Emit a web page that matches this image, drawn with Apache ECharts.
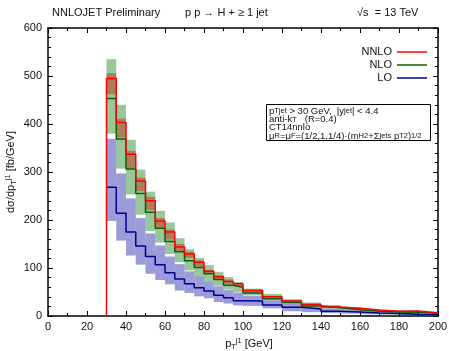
<!DOCTYPE html>
<html>
<head>
<meta charset="utf-8">
<script src="https://cdn.jsdelivr.net/npm/echarts@6/dist/echarts.min.js"></script>
<style>html,body{margin:0;padding:0;background:#fff}#c{width:449px;height:351px}</style>
</head>
<body>
<div id="c"></div>
<script>
// Bin edges (GeV)
const binEdges = [30,35,40,45,50,55,60,65,70,75,80,85,90,95,100,110,120,130,140,150,160,170,180,190,200];
// NNLO
const nnlo     = [495,403,337,281,240,198,175,144,129,112,93,82,72,67,53,40,31,24,19,16,12.6,10,10.4,7];
const nnloUp   = [506,411,344,288,248,204,180,150,134,116,96,85,76,69,55,42,33,26,21,17,13.5,11,11.5,8];
const nnloDown = [462,372,308,260,221,184,159,134,121,103,88,77,67,62,49,37,29,22,17.5,14.5,11.5,9,9.2,6.3];
// NLO
const nlo      = [453,369,306,255,216,183,155,134,115,101,88,76,64,60,48,36,28,21,17,13,10,8.5,8,5.5];
const nloUp    = [535,440,367,305,259,219,195,162,139,121,106,92,81,71,57,46,35,28,23,17.5,14,11.5,10.5,7.5];
const nloDown  = [380,307,253,211,177,153,129,112,95,83,72,63,55,50,43,33,25,19,15,12,9,7.5,6.5,5];
// LO
const lo       = [268,214,175,146,124,107,90,77,67,59,52,43,38,32,31,23,18,14.5,10,8.5,6.5,5,3.5,3];
const loUp     = [369,297,245,204,172,147,124,108,93,83,72,62,54,49,42,33,25,19,15,12,9,7.5,6,5];
const loDown   = [198,157,126,107,88,75,66,53,48,41,37,29,26,22,21,16,10,8,6,5,3.5,3,2,1.8];
// Axis ticks
const xTicks = [0,20,40,60,80,100,120,140,160,180,200];
const yTicks = [0,100,200,300,400,500,600];

const FONT = 'Liberation Sans, Arial, Helvetica, sans-serif';

function bandData(dn, up) {
  return dn.map((d, i) => [binEdges[i], binEdges[i+1], d, up[i]]);
}
function stepData(v, fromZero) {
  const pts = fromZero ? [[binEdges[0], 0]] : [];
  v.forEach((y, i) => { pts.push([binEdges[i], y]); pts.push([binEdges[i+1], y]); });
  return pts;
}
function bandSeries(name, data, color, z) {
  return {
    type: 'custom', name: name, z: z, silent: true,
    data: data,
    encode: { x: [0, 1], y: [2, 3] },
    renderItem: function (params, api) {
      const p0 = api.coord([api.value(0), api.value(3)]);
      const p1 = api.coord([api.value(1), api.value(2)]);
      return {
        type: 'rect',
        shape: { x: p0[0], y: p0[1], width: p1[0] - p0[0], height: p1[1] - p0[1] },
        style: { fill: color, stroke: null }
      };
    }
  };
}
function lineSeries(name, data, color, z) {
  return {
    type: 'line', name: name, data: data, z: z, symbol: 'none', showSymbol: false,
    legendIcon: 'rect',
    lineStyle: { color: color, width: 1.5 }, itemStyle: { color: color },
    animation: false
  };
}

const chart = echarts.init(document.getElementById('c'), null, { renderer: 'canvas' });

const axisCommon = {
  axisLine: { show: true, onZero: false, lineStyle: { color: '#000', width: 1.5 } },
  splitLine: { show: false },
};
const richAxis = {
  b: { fontSize: 11, fontFamily: FONT, lineHeight: 14, verticalAlign: 'middle', color: '#111' },
  s: { fontSize: 7.5, fontFamily: FONT, verticalAlign: 'bottom', color: '#111' },
  u: { fontSize: 7.5, fontFamily: FONT, verticalAlign: 'top', color: '#111' }
};
const richGraphic = {
  b: { font: '11px ' + FONT, lineHeight: 14, verticalAlign: 'middle', fill: '#111' },
  s: { font: '7.5px ' + FONT, verticalAlign: 'bottom', fill: '#111' },
  u: { font: '7.5px ' + FONT, verticalAlign: 'top', fill: '#111' }
};

chart.setOption({
  animation: false,
  backgroundColor: '#fff',
  grid: { left: 48, right: 11, top: 28, bottom: 35, containLabel: false, outerBoundsMode: 'none' },
  xAxis: [
    Object.assign({}, axisCommon, {
      type: 'value', min: 0, max: 200, interval: 20, position: 'bottom',
      axisTick: { inside: true, length: 5, lineStyle: { color: '#000', width: 1 } },
      minorTick: { show: true, splitNumber: 2, length: 3, lineStyle: { color: '#000', width: 1 } },
      axisLabel: { fontFamily: FONT, fontSize: 11, color: '#111', margin: 5,
        formatter: v => (xTicks.indexOf(v) >= 0 ? String(v) : '') },
      name: '{b|p}{s|T}{u|j1}{b| [GeV]}', nameLocation: 'middle', nameGap: 21, nameMoveOverlap: false,
      nameTextStyle: { fontFamily: FONT, color: '#111', rich: richAxis, padding: [0, 0, 0, 12] }
    }),
    Object.assign({}, axisCommon, {
      type: 'value', min: 0, max: 200, interval: 20, position: 'top',
      axisTick: { inside: true, length: 5, lineStyle: { color: '#000', width: 1 } },
      minorTick: { show: true, splitNumber: 2, length: 3, lineStyle: { color: '#000', width: 1 } },
      axisLabel: { show: false }
    })
  ],
  yAxis: [
    Object.assign({}, axisCommon, {
      type: 'value', min: 0, max: 600, interval: 100, position: 'left',
      axisTick: { inside: true, length: 5, lineStyle: { color: '#000', width: 1 } },
      minorTick: { show: true, splitNumber: 5, length: 3, lineStyle: { color: '#000', width: 1 } },
      axisLabel: { fontFamily: FONT, fontSize: 11, color: '#111', margin: 6,
        formatter: v => (yTicks.indexOf(v) >= 0 ? String(v) : '') }
    }),
    Object.assign({}, axisCommon, {
      type: 'value', min: 0, max: 600, interval: 100, position: 'right',
      axisTick: { inside: true, length: 5, lineStyle: { color: '#000', width: 1 } },
      minorTick: { show: true, splitNumber: 5, length: 3, lineStyle: { color: '#000', width: 1 } },
      axisLabel: { show: false }
    })
  ],
  legend: {
    data: ['NNLO', 'NLO', 'LO'], orient: 'vertical', right: 17, top: 41,
    align: 'right', itemWidth: 30, itemHeight: 1.5, itemGap: 1, icon: 'rect',
    textStyle: { fontFamily: FONT, fontSize: 11, color: '#111', lineHeight: 12 },
    selectedMode: false
  },
  series: [
    bandSeries('NLO band', bandData(nloDown, nloUp), 'rgba(50,145,50,0.5)', 1),
    bandSeries('LO band', bandData(loDown, loUp), 'rgba(45,45,175,0.48)', 2),
    bandSeries('NNLO band', bandData(nnloDown, nnloUp), 'rgba(200,45,30,0.5)', 3),
    lineSeries('LO', stepData(lo, false), '#00008b', 4),
    lineSeries('NLO', stepData(nlo, false), '#0a5f0a', 5),
    lineSeries('NNLO', stepData(nnlo, true), '#ff0000', 6)
  ],
  graphic: [
    { type: 'text', left: 52, top: 7, style: { text: 'NNLOJET Preliminary', font: '11px ' + FONT, fill: '#111' } },
    { type: 'text', left: 185, top: 7, style: { text: 'p p → H + ≥ 1 jet', font: '11px ' + FONT, fill: '#111' } },
    { type: 'text', left: 357, top: 7, style: { text: '√s  = 13 TeV', font: '11px ' + FONT, fill: '#111' } },
    { type: 'text', x: 11, y: 172, rotation: Math.PI / 2,
      style: { text: '{b|dσ/dp}{s|T}{u|j1}{b| [fb/GeV]}', align: 'center', verticalAlign: 'middle',
        font: '11px ' + FONT, fill: '#111', rich: richGraphic } },
    { type: 'rect', left: 266, top: 104, z: 10,
      shape: { width: 164, height: 36 }, style: { fill: '#fff', stroke: '#000', lineWidth: 1 } },
    { type: 'text', left: 269, top: 106, z: 11,
      style: {
        text: '{b|p}{s|T}{u|jet}{b| > 30 GeV,  |y}{u|jet}{b|| < 4.4}\n' +
              '{b|anti-k}{s|T}{b|   (R=0.4)}\n' +
              '{b|CT14nnlo}\n' +
              '{b|μ}{s|R}{b|=μ}{s|F}{b|=(1/2,1,1/4)·(m}{s|H}{u|2}{b|+Σ}{s|jets}{b| p}{s|T}{u|2}{b|)}{u|1/2}',
        font: '9.5px ' + FONT, fill: '#111',
        rich: {
          b: { font: '9.5px ' + FONT, lineHeight: 8.3, verticalAlign: 'middle', fill: '#111' },
          s: { font: '7.5px ' + FONT, verticalAlign: 'bottom', fill: '#111' },
          u: { font: '7.5px ' + FONT, verticalAlign: 'top', fill: '#111' }
        }
      } }
  ]
});
</script>
</body>
</html>
